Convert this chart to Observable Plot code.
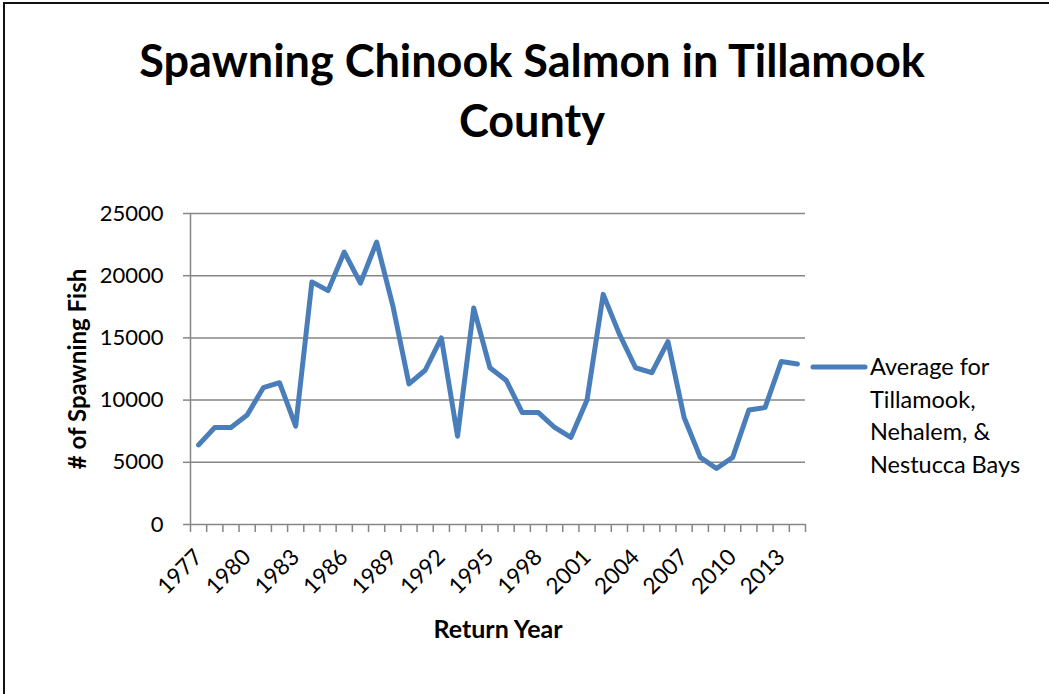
<!DOCTYPE html>
<html>
<head>
<meta charset="utf-8">
<script src="https://cdn.jsdelivr.net/npm/d3@7"></script>
<script src="https://cdn.jsdelivr.net/npm/@observablehq/plot@0.6"></script>
<style>
  html, body { margin: 0; padding: 0; background: #fff; }
  #wrap { position: relative; width: 1049px; height: 694px; overflow: hidden; font-family: Lato, "Open Sans", sans-serif; }
  #border { position: absolute; left: 3px; top: 2px; width: 1100px; height: 800px; border-left: 2px solid #111; border-top: 2px solid #111; box-sizing: border-box; }
  #title { position: absolute; left: 82px; width: 900px; top: 30px; text-align: center; font-weight: 700; font-size: 45px; line-height: 60px; color: #000; }
  #legend { position: absolute; left: 810px; top: 350px; font-size: 23.5px; line-height: 32.7px; color: #000; }
  #legend svg { position: absolute; left: 0; top: 13px; }
  #legend .txt { position: absolute; left: 60px; top: 0; white-space: nowrap; }
  #chart { position: absolute; left: 0; top: 0; }
</style>
</head>
<body>
<div id="wrap">
  <div id="chart"></div>
  <div id="border"></div>
  <div id="title">Spawning Chinook Salmon in Tillamook<br>County</div>
  <div id="legend">
    <svg width="60" height="8"><line x1="3" y1="4" x2="55" y2="4" stroke="#4a7ebb" stroke-width="5" stroke-linecap="round"/></svg>
    <div class="txt">Average for<br>Tillamook,<br>Nehalem, &amp;<br>Nestucca Bays</div>
  </div>
</div>
<script>
const years = [1977,1978,1979,1980,1981,1982,1983,1984,1985,1986,1987,1988,1989,1990,1991,1992,1993,1994,1995,1996,1997,1998,1999,2000,2001,2002,2003,2004,2005,2006,2007,2008,2009,2010,2011,2012,2013,2014];
const fish = [6400,7800,7800,8800,11000,11400,7900,19500,18800,21900,19400,22700,17600,11300,12400,15000,7100,17400,12600,11600,9000,9000,7800,7000,10000,18500,15300,12600,12200,14700,8600,5400,4500,5400,9200,9400,13100,12900];
const yearLabels = [1977,1980,1983,1986,1989,1992,1995,1998,2001,2004,2007,2010,2013];
const yTicks = [0,5000,10000,15000,20000,25000];

const data = years.map((y, i) => ({year: y, fish: fish[i]}));
const xDomain = [years[0] - 0.5, years[years.length - 1] + 0.5];
const boundaries = years.map(y => y - 0.5).concat([years[years.length - 1] + 0.5]);
const gray = "#868686";

const chart = Plot.plot({
  width: 1049,
  height: 694,
  marginLeft: 190,
  marginRight: 244,
  marginTop: 213,
  marginBottom: 170,
  style: {fontFamily: "Lato, 'Open Sans', sans-serif", fontSize: "22px", color: "#000", background: "transparent"},
  x: {domain: xDomain},
  y: {domain: [0, 25000]},
  marks: [
    Plot.gridY(yTicks, {stroke: gray, strokeOpacity: 1, strokeWidth: 1.5}),
    Plot.ruleX([xDomain[0]], {stroke: gray, strokeWidth: 1.5}),
    Plot.axisY(yTicks, {tickSize: 7, tickPadding: 20, stroke: gray, strokeWidth: 1.5, tickFormat: d => String(d), label: null, fill: "#000", fontSize: 22}),
    Plot.axisX(boundaries, {tickSize: 8, tickFormat: () => "", stroke: gray, strokeWidth: 1.5, label: null}),
    Plot.axisX(yearLabels, {tickSize: 0, tickPadding: 29, tickRotate: -45, tickFormat: d => String(d), label: null, fill: "#000", fontSize: 22.5}),
    Plot.line(data, {x: "year", y: "fish", stroke: "#4a7ebb", strokeWidth: 5, strokeLinejoin: "round", strokeLinecap: "round"}),
    Plot.text(["Return Year"], {frameAnchor: "bottom", dy: 113, fontWeight: "bold", fontSize: 25, fill: "#000"}),
    Plot.text(["# of Spawning Fish"], {frameAnchor: "left", textAnchor: "middle", dx: -112, rotate: -90, fontWeight: "bold", fontSize: 24, fill: "#000"})
  ]
});
document.getElementById("chart").appendChild(chart);
</script>
</body>
</html>
